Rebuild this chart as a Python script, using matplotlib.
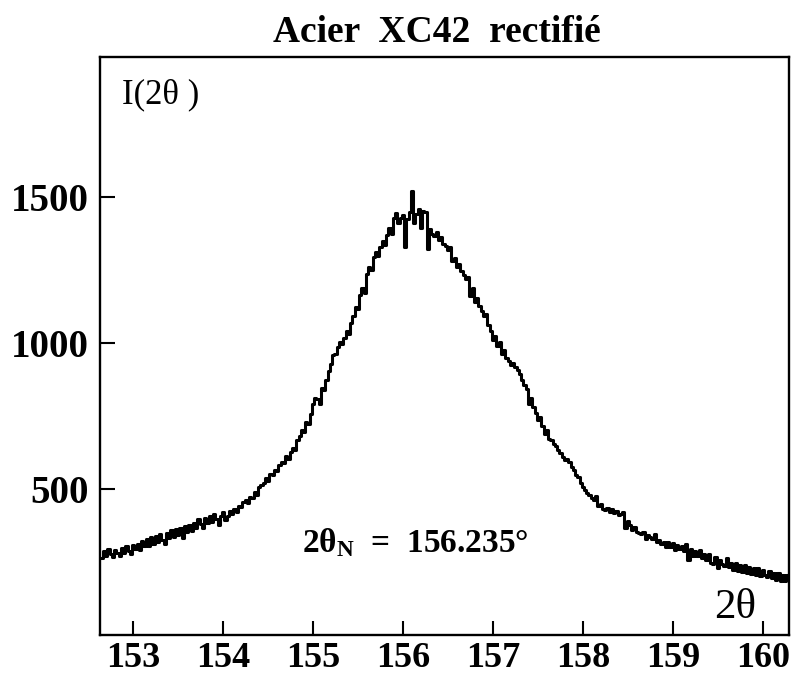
import numpy as np
import matplotlib
matplotlib.use("Agg")
import matplotlib.pyplot as plt

plt.rcParams['font.family'] = ['Liberation Serif', 'DejaVu Serif']
plt.rcParams['mathtext.fontset'] = 'custom'
plt.rcParams['mathtext.rm'] = 'Liberation Serif'
plt.rcParams['mathtext.bf'] = 'Liberation Serif:bold'
plt.rcParams['mathtext.it'] = 'Liberation Serif:italic'

# scan grid (degrees 2theta)
two_theta_start = 152.65
two_theta_step = 0.025

# measured counts, one row per 0.2 degree
counts = [
    262, 286, 270, 294, 276, 266, 292, 280,
    270, 298, 282, 306, 288, 276, 308, 294,
    310, 290, 322, 304, 328, 306, 334, 312,
    340, 318, 346, 325, 312, 350, 332, 358,
    336, 362, 344, 368, 332, 372, 352, 378,
    356, 384, 366, 398, 380, 368, 400, 384,
    408, 386, 414, 396, 378, 408, 420, 394,
    408, 424, 415, 433, 421, 442, 437, 455,
    462, 451, 474, 468, 489, 481, 506, 515,
    520, 538, 529, 553, 547, 566, 560, 582,
    594, 588, 612, 604, 627, 642, 635, 668,
    680, 702, 694, 731, 722, 758, 790, 812,
    808, 792, 846, 838, 872, 905, 928, 958,
    962, 985, 1004, 996, 1018, 1042, 1031, 1070,
    1092, 1125, 1118, 1165, 1190, 1172, 1236, 1262,
    1250, 1295, 1312, 1298, 1330, 1348, 1336, 1370,
    1395, 1372, 1428, 1446, 1412, 1430, 1438, 1330,
    1425, 1450, 1522, 1410, 1442, 1458, 1395, 1452,
    1448, 1322, 1390, 1372, 1366, 1380, 1352, 1362,
    1340, 1332, 1318, 1330, 1280, 1292, 1262, 1270,
    1248, 1232, 1218, 1226, 1160, 1188, 1140, 1155,
    1128, 1110, 1092, 1100, 1062, 1040, 1012, 1025,
    990, 1002, 962, 975, 948, 938, 925, 932,
    918, 908, 895, 872, 858, 842, 790, 812,
    782, 760, 735, 748, 715, 690, 702, 672,
    668, 655, 648, 632, 625, 610, 598, 602,
    592, 575, 565, 548, 540, 520, 508, 496,
    488, 480, 470, 462, 475, 442, 450, 432,
    428, 435, 422, 430, 418, 425, 410, 416,
    420, 368, 392, 376, 360, 371, 352, 348,
    345, 352, 330, 342, 336, 328, 345, 318,
    326, 310, 318, 302, 320, 300, 314, 292,
    308, 296, 306, 288, 310, 256, 294, 270,
    286, 270, 290, 262, 278, 256, 276, 248,
    244, 268, 228, 258, 242, 236, 262, 232,
    248, 224, 246, 220, 240, 216, 238, 214,
    234, 208, 228, 204, 230, 202, 222, 206,
    200, 220, 196, 214, 190, 212, 186, 206,
    184, 204,
]

x_ticks = [153, 154, 155, 156, 157, 158, 159, 160]
y_ticks = [500, 1000, 1500]
peak_label = "156.235°"

two_theta = two_theta_start + two_theta_step * np.arange(len(counts))

fig = plt.figure(figsize=(8, 6.75), dpi=100)
ax = fig.add_axes([0.125, 0.0593, 0.861, 0.8563])

ax.plot(two_theta, counts, color='black', lw=2.2, drawstyle='steps-mid')

ax.set_xlim(152.63, 160.29)
ax.set_ylim(0, 1980)
ax.set_xticks(x_ticks)
ax.set_yticks(y_ticks)
ax.set_xticklabels([str(t) for t in x_ticks], fontsize=26, fontweight='bold')
ax.set_yticklabels([str(t) for t in y_ticks], fontsize=28, fontweight='bold')
ax.tick_params(axis='x', direction='in', length=10, width=1.5, pad=5)
ax.tick_params(axis='y', direction='in', length=11, width=1.5, pad=8)
for s in ax.spines.values():
    s.set_linewidth(1.7)

fig.text(0.546, 0.938, "Acier  XC42  rectifié", ha='center', va='baseline',
         fontsize=27, fontweight='bold')
fig.text(0.152, 0.847, "I(2θ )", ha='left', va='baseline', fontsize=25)
fig.text(0.893, 0.084, "2θ", ha='left', va='baseline', fontsize=31)
fig.text(0.3775, 0.182, r"$\mathbf{2θ}_{\mathbf{N}}$  =  " + peak_label,
         ha='left', va='baseline', fontsize=24, fontweight='bold')

fig.savefig("out.png", dpi=100)
